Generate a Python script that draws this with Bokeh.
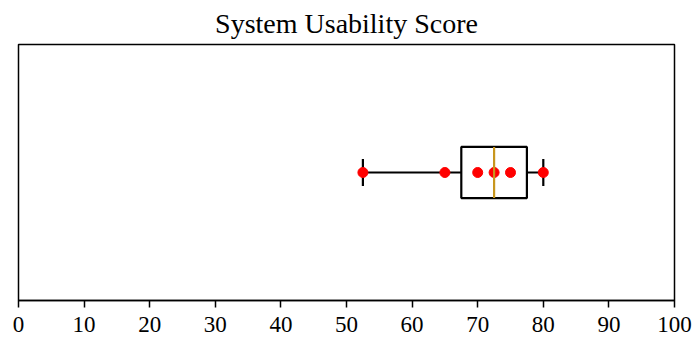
from bokeh.plotting import figure
from bokeh.models import FixedTicker
from bokeh.embed import file_html
from bokeh.resources import INLINE

# Data
title_text = "System Usability Score"
scores = [52.5, 65, 70, 72.5, 75, 80]
whisker_low = 52.5
q1 = 67.5
median = 72.5
q3 = 77.5
whisker_high = 80
tick_values = [0, 10, 20, 30, 40, 50, 60, 70, 80, 90, 100]

pos = 1.0
box_half = 0.1
cap_half = 0.053

p = figure(width=694, height=338, x_range=(0, 100), y_range=(0.5, 1.5),
           output_backend="svg", toolbar_location=None,
           min_border_left=18, min_border_right=20,
           min_border_top=44, min_border_bottom=38)
p.title.text = title_text
p.title.text_font = "Liberation Serif"
p.title.text_font_size = "28px"
p.title.text_font_style = "normal"
p.title.align = "center"
p.title.text_color = "black"
p.title.standoff = 11

p.grid.visible = False
p.yaxis.visible = False
p.outline_line_color = "black"
p.outline_line_width = 1.5
p.outline_line_alpha = 1
p.background_fill_color = "white"
p.border_fill_color = "white"

ax = p.xaxis[0]
ax.ticker = FixedTicker(ticks=tick_values)
ax.major_tick_out = 7
ax.major_tick_in = 0
ax.minor_tick_line_color = None
ax.axis_line_color = "black"
ax.axis_line_width = 1.5
ax.major_tick_line_color = "black"
ax.major_tick_line_width = 1.5
ax.major_label_text_font = "Liberation Serif"
ax.major_label_text_font_size = "23px"
ax.major_label_text_color = "black"
ax.major_label_standoff = 9

# whiskers
p.segment(x0=[whisker_low, q3], y0=[pos, pos], x1=[q1, whisker_high], y1=[pos, pos],
          line_color="black", line_width=2.2)
# caps
p.segment(x0=[whisker_low, whisker_high], y0=[pos - cap_half] * 2,
          x1=[whisker_low, whisker_high], y1=[pos + cap_half] * 2,
          line_color="black", line_width=2.2)
# box
p.quad(left=[q1], right=[q3], bottom=[pos - box_half], top=[pos + box_half],
       fill_color=None, line_color="black", line_width=2.2)
# points
p.scatter(x=scores, y=[pos] * len(scores), size=10, color="red", line_color="red")
# median
p.segment(x0=[median], y0=[pos - box_half], x1=[median], y1=[pos + box_half],
          line_color="#c8961e", line_width=2.2)

open("out.html", "w").write(file_html(p, INLINE))
